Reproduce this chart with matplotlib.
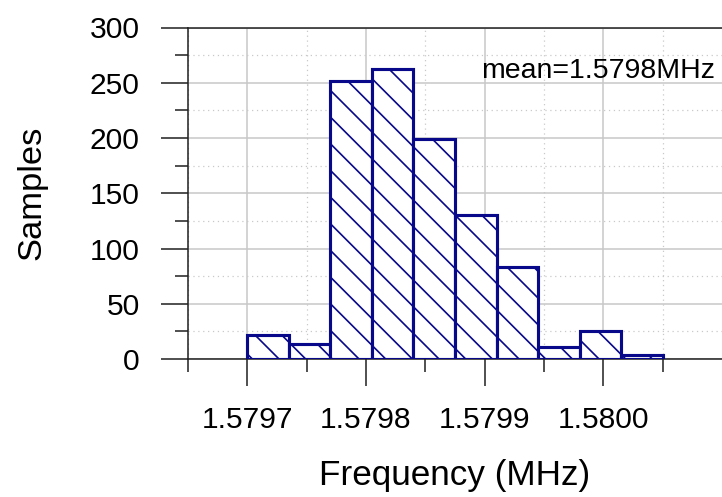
import numpy as np
import matplotlib
matplotlib.use('Agg')
import matplotlib.pyplot as plt
from matplotlib.ticker import FixedLocator, MultipleLocator, FormatStrFormatter

# Dados do histograma
bin_start = 1.57970
bin_stop = 1.58005
counts = [22, 14, 252, 262, 199, 130, 83, 11, 25, 4]
x_ticks = [1.5797, 1.5798, 1.5799, 1.5800]
mean_label = 'mean=1.5798MHz'
x_label = 'Frequency (MHz)'
y_label = 'Samples'

edges = np.linspace(bin_start, bin_stop, len(counts) + 1)

plt.rcParams['font.family'] = ['Liberation Sans', 'DejaVu Sans']
plt.rcParams['hatch.linewidth'] = 0.75

# dpi 160 -> espaçamento do hachurado parecido com o original
fig = plt.figure(figsize=(722 / 160, 497 / 160), dpi=160)
ax = fig.add_axes([188 / 722, 1 - 359 / 497, 534 / 722, 331.5 / 497])

navy = '#08088a'
ax.bar(edges[:-1], counts, width=np.diff(edges), align='edge',
       facecolor='white', edgecolor=navy, linewidth=1.4, hatch='\\\\',
       zorder=3)

ax.set_xlim(1.57965, 1.58010)
ax.set_ylim(0, 300)

ax.xaxis.set_major_locator(FixedLocator(x_ticks))
ax.xaxis.set_minor_locator(FixedLocator([t - 0.00005 for t in x_ticks] + [x_ticks[-1] + 0.00005]))
ax.xaxis.set_major_formatter(FormatStrFormatter('%.4f'))
ax.yaxis.set_major_locator(MultipleLocator(50))
ax.yaxis.set_minor_locator(MultipleLocator(25))

# Grade: principal sólida, secundária pontilhada
ax.grid(True, which='major', color='#c8c8c8', linewidth=0.7, linestyle='-')
ax.grid(True, which='minor', color='#c8c8c8', linewidth=0.55, linestyle=(0, (1, 3)))
ax.set_axisbelow(True)

for side in ['left', 'top', 'bottom']:
    ax.spines[side].set_color('#222222')
    ax.spines[side].set_linewidth(0.7)
ax.spines['right'].set_visible(False)

ax.tick_params(which='major', direction='out', length=12.2, width=0.7,
               color='#222222', labelsize=13.5)
ax.tick_params(which='minor', direction='out', length=5.9, width=0.7,
               color='#222222')
ax.tick_params(axis='x', which='major', pad=9)
ax.tick_params(axis='y', which='major', pad=9.5)

ax.set_xlabel(x_label, fontsize=15.8, labelpad=11)
ax.set_ylabel(y_label, fontsize=15.5, labelpad=19)

ax.text(0.987, 0.848, mean_label, transform=ax.transAxes, ha='right',
        va='baseline', fontsize=12.8, zorder=4)

fig.savefig('out.png', dpi=160)
